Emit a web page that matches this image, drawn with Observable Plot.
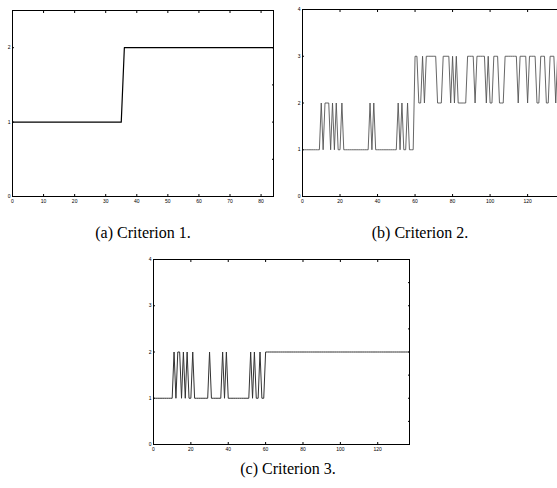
<!DOCTYPE html>
<html>
<head>
<meta charset="utf-8">
<script src="https://cdn.jsdelivr.net/npm/d3@7"></script>
<script src="https://cdn.jsdelivr.net/npm/@observablehq/plot@0.6"></script>
<style>
  html, body { margin: 0; padding: 0; background: #fff; overflow: hidden; }
  #wrap { position: relative; width: 557px; height: 488px; overflow: hidden; }
  .panel { position: absolute; }
  .cap { position: absolute; font-family: "Times New Roman", "Liberation Serif", serif; font-size: 16px; line-height: 16px; white-space: nowrap; transform: translateX(-50%); color: #000; }
</style>
</head>
<body>
<div id="wrap"></div>
<script>
// ---- Data ----
// (a) Criterion 1: breakpoints
const aX = [0, 35, 36, 84];
const aY = [1, 1, 2, 2];

// (b) Criterion 2: value at each step 0..137
const bY = [
  1,1,1,1,1,1,1,1,1,1,
  2,1,2,2,2,1,2,1,2,1,
  1,2,1,1,1,1,1,1,1,1,
  1,1,1,1,1,1,2,1,2,1,
  1,1,1,1,1,1,1,1,1,1,
  1,2,1,2,1,1,2,1,1,1,
  3,3,2,2,3,2,3,3,3,3,
  3,3,2,2,2,3,3,3,3,2,
  3,2,3,2,2,2,2,2,3,3,
  3,3,2,3,3,3,3,3,2,3,
  2,2,3,3,3,2,2,2,3,3,
  3,3,3,3,3,2,3,3,3,3,
  2,3,3,3,3,2,2,3,3,3,
  2,2,3,3,3,2,3,2
];

// (c) Criterion 3: value at each step 0..137
const cY = [
  1,1,1,1,1,1,1,1,1,1,
  1,2,1,2,2,1,2,1,2,1,
  1,2,1,1,1,1,1,1,1,1,
  2,1,1,1,1,1,1,2,1,2,
  1,1,1,1,1,1,1,1,1,1,
  1,1,2,1,2,1,1,2,1,1,
  2,2,2,2,2,2,2,2,2,2,
  2,2,2,2,2,2,2,2,2,2,
  2,2,2,2,2,2,2,2,2,2,
  2,2,2,2,2,2,2,2,2,2,
  2,2,2,2,2,2,2,2,2,2,
  2,2,2,2,2,2,2,2,2,2,
  2,2,2,2,2,2,2,2,2,2,
  2,2,2,2,2,2,2,2
];

// tick values
const aXTicks = [0, 10, 20, 30, 40, 50, 60, 70, 80];
const aYTicks = [0, 1, 2];
const aYRight = [0.5, 1, 1.5, 2];
const bcXTicks = [0, 20, 40, 60, 80, 100, 120];
const bcYTicks = [0, 1, 2, 3, 4];
const bcYRight = [0.5, 1, 1.5, 2, 2.5, 3, 3.5];

const captions = ["(a) Criterion 1.", "(b) Criterion 2.", "(c) Criterion 3."];

function panel({w, h, ml, mr, mt, mb, xd, yd, xt, yt, yr, data, stroke, sw}) {
  return Plot.plot({
    width: w, height: h,
    marginLeft: ml, marginRight: mr, marginTop: mt, marginBottom: mb,
    x: {domain: xd},
    y: {domain: yd},
    style: {fontFamily: "'Liberation Sans', Arial, sans-serif", fontSize: "5px", background: "transparent", color: "#000", overflow: "visible"},
    marks: [
      Plot.axisX({ticks: xt, tickSize: -2, tickPadding: 5, fontSize: 5, tickFormat: "d", label: null}),
      Plot.axisX({anchor: "top", ticks: xt, tickSize: -2, tickFormat: () => "", label: null}),
      Plot.axisY({ticks: yt, tickSize: -2, tickPadding: 4, fontSize: 5, tickFormat: "d", label: null}),
      Plot.axisY({anchor: "right", ticks: yr, tickSize: -2, tickFormat: () => "", label: null}),
      Plot.line(data, {x: "x", y: "y", stroke, strokeWidth: sw}),
      Plot.frame({stroke: "#000", strokeWidth: 1})
    ]
  });
}

const wrap = document.getElementById("wrap");
function place(node, left, top) {
  node.classList.add("panel");
  node.style.left = left + "px";
  node.style.top = top + "px";
  wrap.appendChild(node);
}

const aData = aX.map((x, i) => ({x, y: aY[i]}));
const bData = bY.map((y, i) => ({x: i, y}));
const cData = cY.map((y, i) => ({x: i, y}));

place(panel({w: 280, h: 210, ml: 12, mr: 7, mt: 10, mb: 14, xd: [0, 84], yd: [0, 2.5],
  xt: aXTicks, yt: aYTicks, yr: aYRight, data: aData, stroke: "#000", sw: 1.2}), 0, 0);

place(panel({w: 280, h: 210, ml: 17, mr: 6, mt: 9, mb: 14, xd: [0, 137], yd: [0, 4],
  xt: bcXTicks, yt: bcYTicks, yr: bcYRight, data: bData, stroke: "#555", sw: 0.9}), 285, 0);

place(panel({w: 280, h: 210, ml: 13, mr: 11, mt: 9, mb: 16, xd: [0, 137], yd: [0, 4],
  xt: bcXTicks, yt: bcYTicks, yr: bcYRight, data: cData, stroke: "#333", sw: 1}), 140, 250);

const capPos = [[143, 225], [420, 225], [288, 461]];
captions.forEach((t, i) => {
  const d = document.createElement("div");
  d.className = "cap";
  d.textContent = t;
  d.style.left = capPos[i][0] + "px";
  d.style.top = capPos[i][1] + "px";
  wrap.appendChild(d);
});
</script>
</body>
</html>
